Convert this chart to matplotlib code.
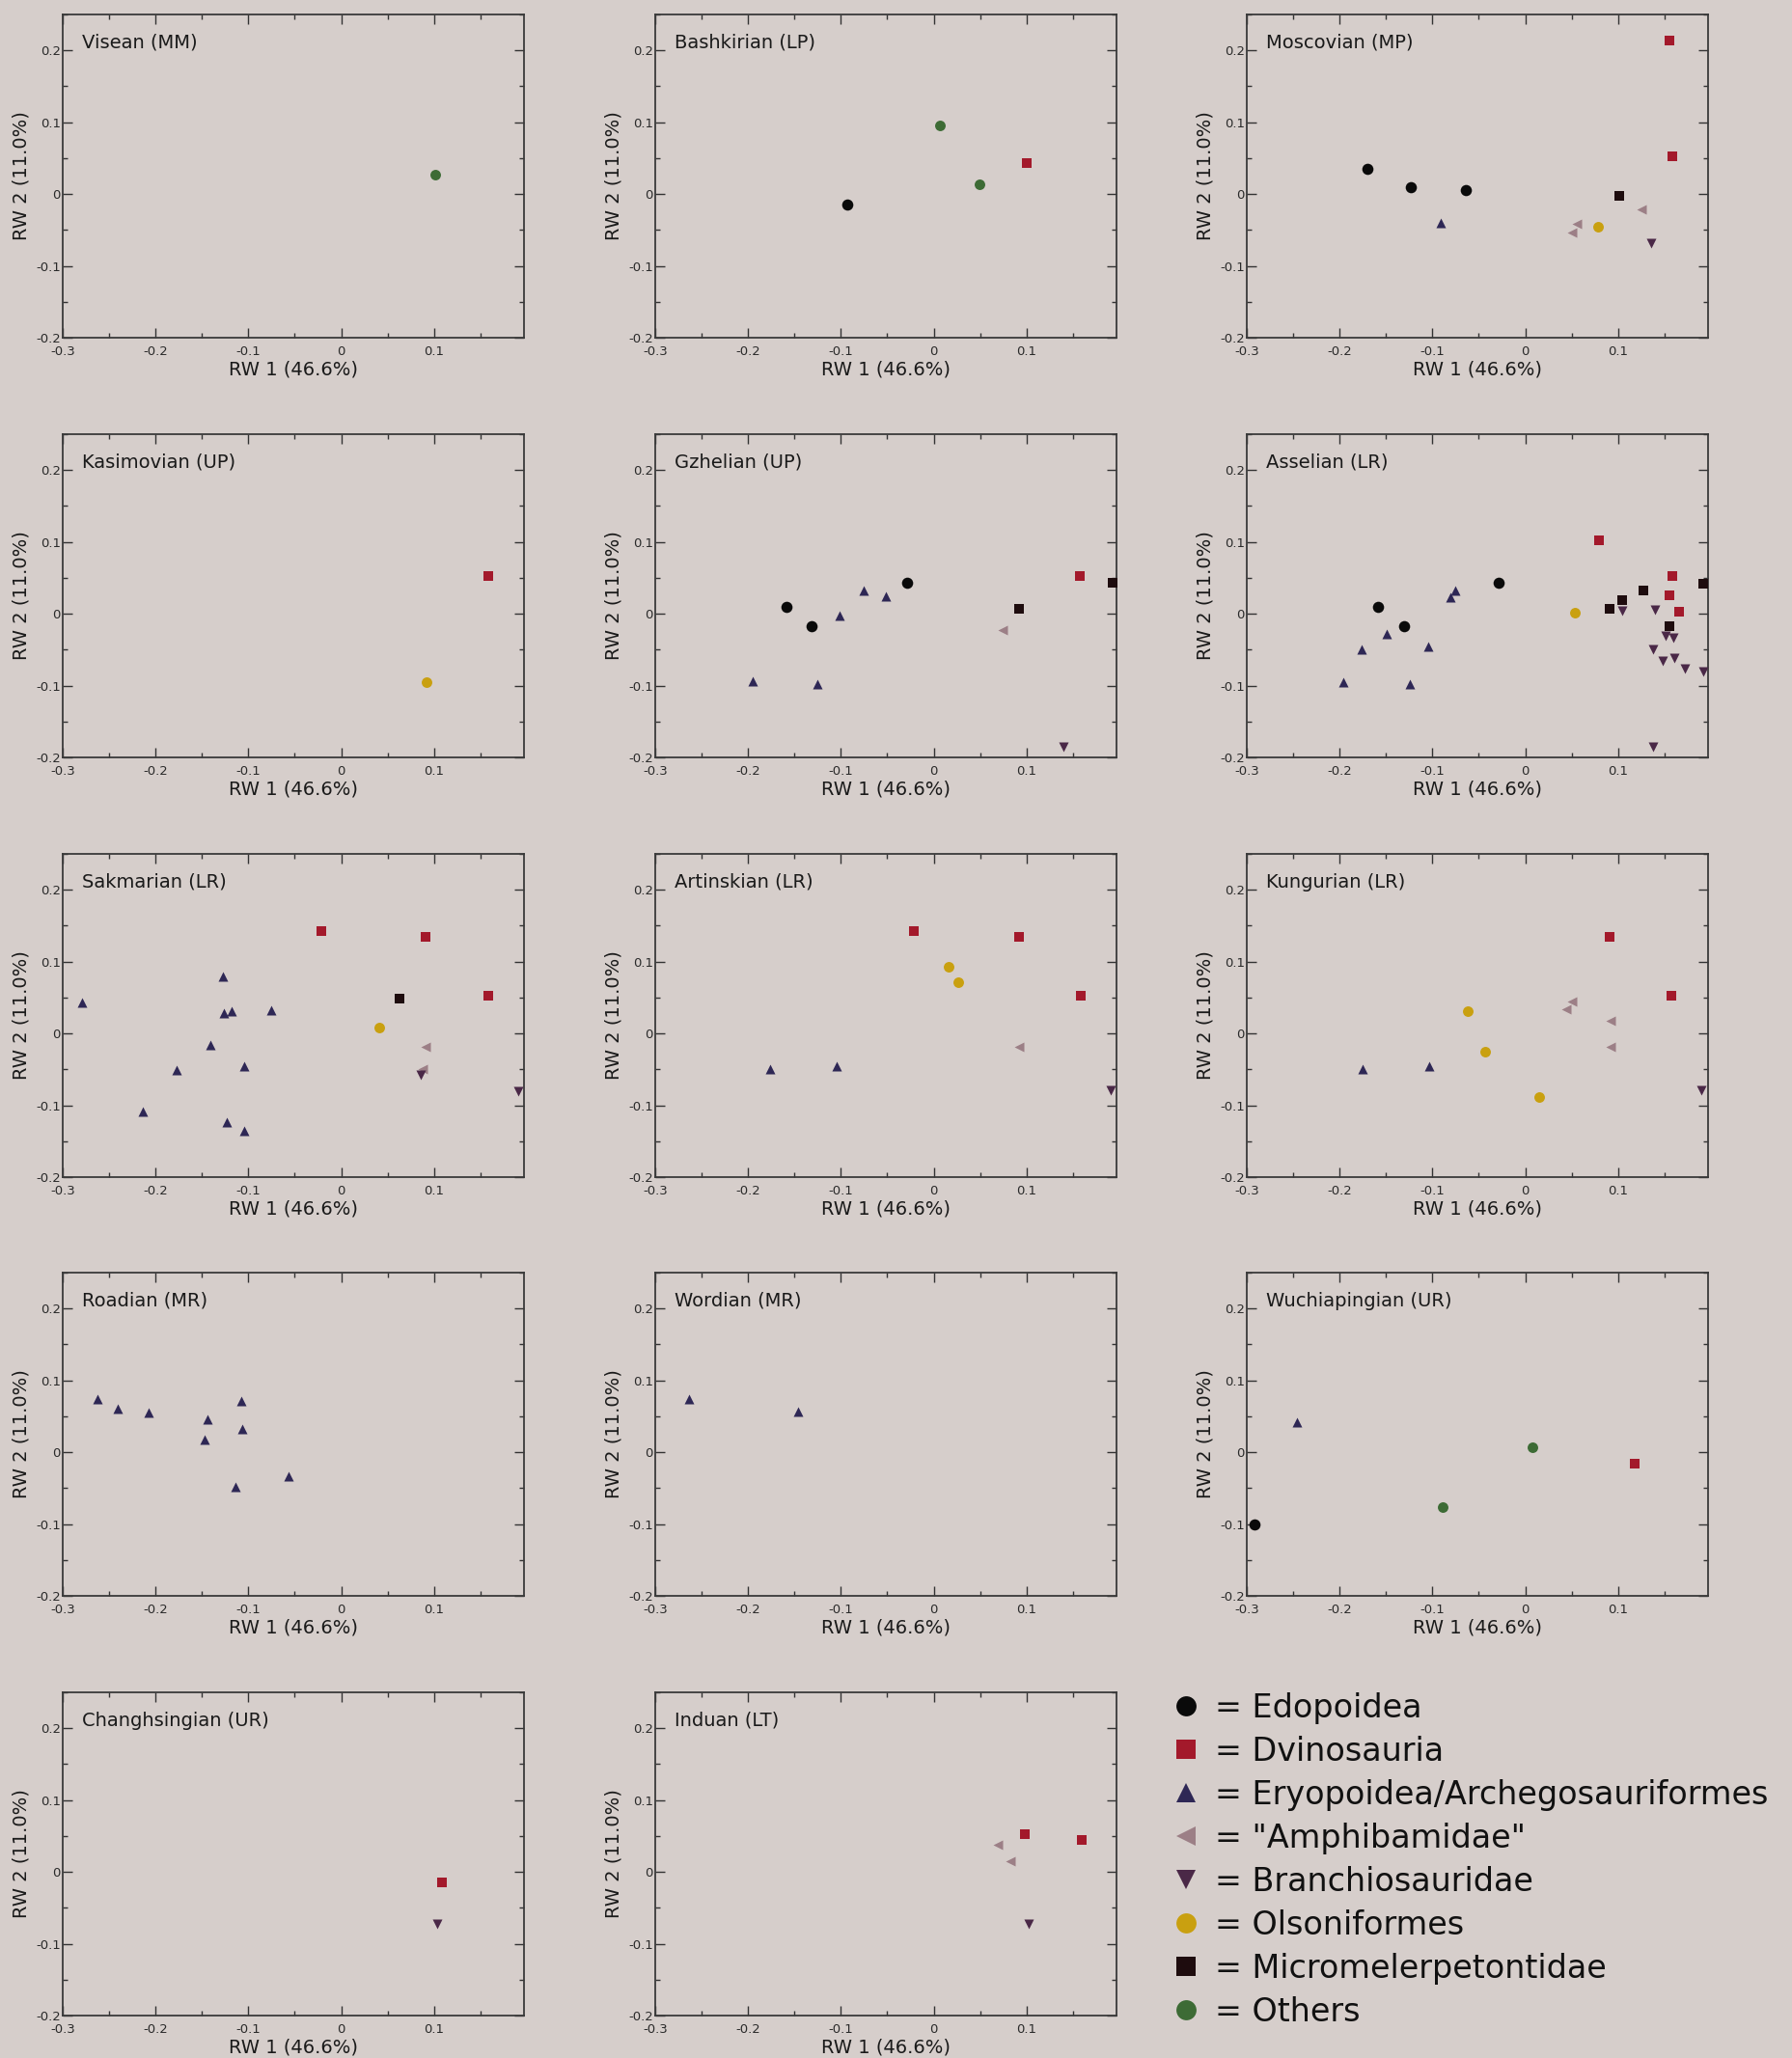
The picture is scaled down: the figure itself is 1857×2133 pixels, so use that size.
import matplotlib
matplotlib.use("Agg")
import matplotlib.pyplot as plt
from matplotlib.ticker import MultipleLocator, FixedLocator, FuncFormatter
from matplotlib.lines import Line2D

plt.rcParams['font.family'] = ['DejaVu Sans']
plt.rcParams['axes.unicode_minus'] = False

BG = '#d6cecb'

GROUPS = ['Edopoidea', 'Dvinosauria', 'Eryopoidea/Archegosauriformes', '"Amphibamidae"',
          'Branchiosauridae', 'Olsoniformes', 'Micromelerpetontidae', 'Others']
MARKERS = ['o', 's', '^', '<', 'v', 'o', 's', 'o']
COLORS = ['#0a0a0a', '#a3192b', '#2e2755', '#9c7f86', '#4a2847', '#c9a010', '#1e0c0e', '#3d6b35']
SIZES = [70, 48, 52, 52, 52, 62, 48, 62]

# each stage: group -> (RW1 values, RW2 values)
visean = {'Others': ([0.101], [0.027])}
bashkirian = {'Edopoidea': ([-0.093], [-0.015]),
              'Others': ([0.007, 0.049], [0.095, 0.014]),
              'Dvinosauria': ([0.100], [0.043])}
moscovian = {'Edopoidea': ([-0.170, -0.123, -0.064], [0.035, 0.010, 0.006]),
             'Eryopoidea/Archegosauriformes': ([-0.091], [-0.040]),
             'Dvinosauria': ([0.155, 0.159], [0.214, 0.052]),
             'Micromelerpetontidae': ([0.101], [-0.002]),
             '"Amphibamidae"': ([0.125, 0.056, 0.050], [-0.022, -0.042, -0.054]),
             'Olsoniformes': ([0.078], [-0.046]),
             'Branchiosauridae': ([0.136], [-0.068])}
kasimovian = {'Dvinosauria': ([0.159], [0.052]),
              'Olsoniformes': ([0.092], [-0.095])}
gzhelian = {'Edopoidea': ([-0.159, -0.132, -0.029], [0.009, -0.017, 0.043]),
            'Eryopoidea/Archegosauriformes': ([-0.195, -0.125, -0.101, -0.075, -0.052],
                                              [-0.094, -0.098, -0.002, 0.033, 0.025]),
            '"Amphibamidae"': ([0.074], [-0.023]),
            'Micromelerpetontidae': ([0.092, 0.193], [0.007, 0.043]),
            'Dvinosauria': ([0.158], [0.052]),
            'Branchiosauridae': ([0.140], [-0.185])}
asselian = {'Edopoidea': ([-0.159, -0.131, -0.029], [0.009, -0.017, 0.043]),
            'Eryopoidea/Archegosauriformes': ([-0.196, -0.176, -0.149, -0.124, -0.105, -0.081, -0.075],
                                              [-0.095, -0.050, -0.028, -0.098, -0.045, 0.023, 0.032]),
            'Olsoniformes': ([0.054], [0.001]),
            'Dvinosauria': ([0.080, 0.159, 0.155, 0.166], [0.102, 0.052, 0.026, 0.003]),
            'Micromelerpetontidae': ([0.091, 0.104, 0.127, 0.155, 0.192],
                                     [0.007, 0.019, 0.033, -0.017, 0.042]),
            'Branchiosauridae': ([0.104, 0.140, 0.151, 0.160, 0.138, 0.161, 0.148, 0.172, 0.192, 0.138],
                                 [0.004, 0.005, -0.031, -0.034, -0.049, -0.062, -0.066, -0.076, -0.080, -0.185])}
sakmarian = {'Eryopoidea/Archegosauriformes': ([-0.279, -0.127, -0.126, -0.118, -0.075, -0.141, -0.177, -0.105, -0.214, -0.123, -0.105],
                                               [0.043, 0.079, 0.029, 0.031, 0.033, -0.016, -0.051, -0.045, -0.108, -0.124, -0.136]),
             'Dvinosauria': ([-0.021, 0.091, 0.159], [0.143, 0.135, 0.052]),
             'Micromelerpetontidae': ([0.063], [0.049]),
             'Olsoniformes': ([0.041], [0.008]),
             '"Amphibamidae"': ([0.091, 0.088], [-0.019, -0.049]),
             'Branchiosauridae': ([0.086, 0.191], [-0.058, -0.080])}
artinskian = {'Dvinosauria': ([-0.021, 0.092, 0.159], [0.143, 0.135, 0.052]),
              'Olsoniformes': ([0.016, 0.026], [0.093, 0.072]),
              '"Amphibamidae"': ([0.092], [-0.018]),
              'Eryopoidea/Archegosauriformes': ([-0.176, -0.105], [-0.050, -0.045]),
              'Branchiosauridae': ([0.191], [-0.079])}
kungurian = {'Dvinosauria': ([0.091, 0.158], [0.135, 0.052]),
             'Olsoniformes': ([-0.062, -0.043, 0.015], [0.031, -0.026, -0.088]),
             '"Amphibamidae"': ([0.050, 0.044, 0.092, 0.092], [0.044, 0.034, 0.017, -0.018]),
             'Eryopoidea/Archegosauriformes': ([-0.175, -0.103], [-0.050, -0.045]),
             'Branchiosauridae': ([0.190], [-0.079])}
roadian = {'Eryopoidea/Archegosauriformes': ([-0.263, -0.241, -0.207, -0.144, -0.108, -0.107, -0.147, -0.114, -0.057],
                                             [0.074, 0.061, 0.055, 0.046, 0.072, 0.032, 0.017, -0.048, -0.034])}
wordian = {'Eryopoidea/Archegosauriformes': ([-0.264, -0.146], [0.074, 0.056])}
wuchiapingian = {'Edopoidea': ([-0.292], [-0.101]),
                 'Eryopoidea/Archegosauriformes': ([-0.246], [0.042]),
                 'Others': ([-0.089, 0.008], [-0.076, 0.007]),
                 'Dvinosauria': ([0.118], [-0.016])}
changhsingian = {'Dvinosauria': ([0.109], [-0.015]),
                 'Branchiosauridae': ([0.103], [-0.072])}
induan = {'Dvinosauria': ([0.098, 0.160], [0.052, 0.045]),
          '"Amphibamidae"': ([0.069, 0.083], [0.038, 0.015]),
          'Branchiosauridae': ([0.102], [-0.072])}

STAGES = ['Visean (MM)', 'Bashkirian (LP)', 'Moscovian (MP)',
          'Kasimovian (UP)', 'Gzhelian (UP)', 'Asselian (LR)',
          'Sakmarian (LR)', 'Artinskian (LR)', 'Kungurian (LR)',
          'Roadian (MR)', 'Wordian (MR)', 'Wuchiapingian (UR)',
          'Changhsingian (UR)', 'Induan (LT)']
STAGE_DATA = [visean, bashkirian, moscovian, kasimovian, gzhelian, asselian,
              sakmarian, artinskian, kungurian, roadian, wordian, wuchiapingian,
              changhsingian, induan]

XTICKS = [-0.3, -0.2, -0.1, 0.0, 0.1]
YTICKS = [-0.2, -0.1, 0.0, 0.1, 0.2]

W, H = 1858, 2133
fig = plt.figure(figsize=(W / 100, H / 100), dpi=100, facecolor=BG)

col_left = [65, 679, 1292]
row_top = [15, 450, 885, 1319, 1754]
aw, ah = 478, 335


def fmt(v, pos):
    if abs(v) < 1e-9:
        return '0'
    return '%.1f' % v


for i, (name, data) in enumerate(zip(STAGES, STAGE_DATA)):
    r, c = divmod(i, 3)
    ax = fig.add_axes([col_left[c] / W, 1 - (row_top[r] + ah) / H, aw / W, ah / H])
    ax.set_facecolor(BG)
    for g, m, col, s in zip(GROUPS, MARKERS, COLORS, SIZES):
        if g in data:
            xs, ys = data[g]
            ax.scatter(xs, ys, marker=m, c=col, s=s, linewidths=0, zorder=3, clip_on=False)
    ax.set_xlim(-0.3, 0.197)
    ax.set_ylim(-0.2, 0.25)
    ax.xaxis.set_major_locator(FixedLocator(XTICKS))
    ax.yaxis.set_major_locator(FixedLocator(YTICKS))
    ax.xaxis.set_minor_locator(MultipleLocator(0.05))
    ax.yaxis.set_minor_locator(MultipleLocator(0.05))
    ax.xaxis.set_major_formatter(FuncFormatter(fmt))
    ax.yaxis.set_major_formatter(FuncFormatter(fmt))
    ax.tick_params(which='both', direction='in', top=True, right=True, colors='#333333',
                   labelcolor='#2a2a2a', labelsize=9.5, width=1.0)
    ax.tick_params(which='major', length=7)
    ax.tick_params(axis='x', which='major', pad=6)
    ax.tick_params(axis='y', which='major', pad=1.5)
    ax.tick_params(which='minor', length=3.5)
    for sp in ax.spines.values():
        sp.set_color('#3a3a3a')
        sp.set_linewidth(1.3)
    ax.set_xlabel('RW 1 (46.6%)', fontsize=14, color='#1a1a1a')
    ax.set_ylabel('RW 2 (11.0%)', fontsize=14, color='#1a1a1a')
    ax.xaxis.set_label_coords(0.5, -0.07)
    ax.yaxis.set_label_coords(-0.07, 0.5)
    ax.text(0.042, 0.913, name, transform=ax.transAxes, fontsize=14, va='center',
            ha='left', color='#1a1a1a')

handles = [Line2D([], [], linestyle='none', marker=m, color=col, markersize=15,
                  markeredgewidth=0) for m, col in zip(MARKERS, COLORS)]
labels = ['= ' + g for g in GROUPS]
fig.legend(handles, labels, loc='upper left', bbox_to_anchor=(1214 / W, 1 - 1754 / H),
           frameon=False, fontsize=24, handlelength=0.9, handletextpad=0.45,
           labelspacing=0.36, borderpad=0, borderaxespad=0, labelcolor='#111111')

fig.savefig('out.png', dpi=100, facecolor=BG)
